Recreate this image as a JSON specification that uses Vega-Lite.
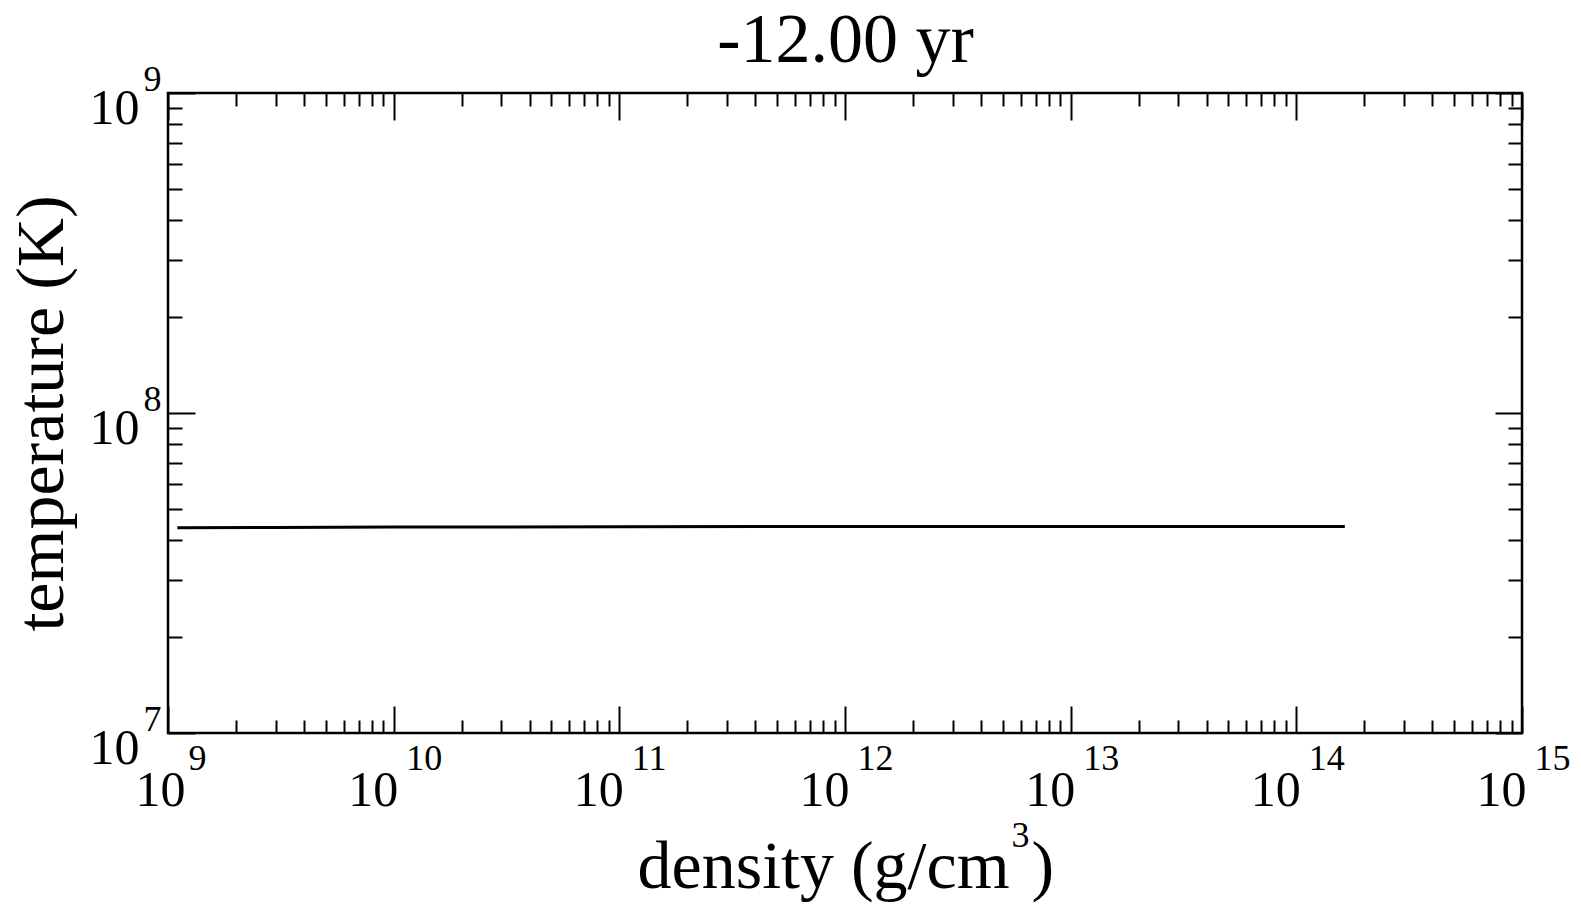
{
  "$schema": "https://vega.github.io/schema/vega-lite/v6.json",
  "width": 1354,
  "height": 640,
  "autosize": "none",
  "padding": {"left": 168, "top": 93, "right": 59, "bottom": 173},
  "background": "white",
  "config": {
    "font": "Liberation Serif",
    "view": {"stroke": "black", "strokeWidth": 2.5},
    "axis": {"grid": false, "domain": false, "labelColor": "black", "titleColor": "black", "labelFlush": false, "labelOverlap": false, "titleFontWeight": "normal"}
  },
  "data": {
    "values": [
      {"density": 1.1e9, "temperature": 4.38e7},
      {"density": 3e9, "temperature": 4.39e7},
      {"density": 1e10, "temperature": 4.40e7},
      {"density": 1e11, "temperature": 4.41e7},
      {"density": 1e12, "temperature": 4.42e7},
      {"density": 1e13, "temperature": 4.42e7},
      {"density": 1.64e14, "temperature": 4.42e7}
    ]
  },
  "layer": [
    {
      "mark": {"type": "line", "color": "black", "strokeWidth": 3},
      "encoding": {
        "x": {
          "field": "density", "type": "quantitative",
          "scale": {"type": "log", "domain": [1e9, 1e15], "nice": false},
          "axis": {
            "orient": "bottom",
            "values": [1e9, 1e10, 1e11, 1e12, 1e13, 1e14, 1e15],
            "ticks": false,
            "labelExpr": "'10'",
            "labelFontSize": 50,
            "labelPadding": 72,
            "labelBaseline": "alphabetic",
            "labelAlign": "right",
            "labelOffset": {"condition": {"test": "datum.value < 2e9", "value": 17}, "value": 4},
            "title": "density (g/cm",
            "titleFontSize": 68,
            "titleX": 469,
            "titleY": 154,
            "titleAlign": "left",
            "titleBaseline": "alphabetic"
          }
        },
        "y": {
          "field": "temperature", "type": "quantitative",
          "scale": {"type": "log", "domain": [1e7, 1e9], "nice": false},
          "axis": {
            "orient": "left",
            "values": [1e7, 1e8, 1e9],
            "ticks": false,
            "labelExpr": "'10'",
            "labelFontSize": 50,
            "labelPadding": 29,
            "labelAlign": "right",
            "labelBaseline": "alphabetic",
            "labelOffset": 30,
            "title": "temperature (K)",
            "titleFontSize": 68,
            "titleX": -106,
            "titleBaseline": "alphabetic"
          }
        }
      }
    },
    {
      "mark": {"type": "line", "opacity": 0},
      "encoding": {
        "x": {
          "field": "density", "type": "quantitative",
          "axis": {
            "orient": "bottom",
            "values": [1e9, 1e10, 1e11, 1e12, 1e13, 1e14, 1e15],
            "ticks": false,
            "labelExpr": "'' + round(log(datum.value) / LN10)",
            "labelFontSize": 36,
            "labelPadding": 36,
            "labelBaseline": "alphabetic",
            "labelAlign": "left",
            "labelOffset": {"condition": {"test": "datum.value < 2e9", "value": 20}, "value": 12},
            "title": "3",
            "titleFontSize": 36,
            "titleX": 843,
            "titleY": 113,
            "titleAlign": "left",
            "titleBaseline": "alphabetic"
          }
        },
        "y": {
          "field": "temperature", "type": "quantitative",
          "axis": {
            "orient": "left",
            "values": [1e7, 1e8, 1e9],
            "ticks": false,
            "labelExpr": "'' + round(log(datum.value) / LN10)",
            "labelFontSize": 36,
            "labelPadding": 7,
            "labelAlign": "right",
            "labelBaseline": "alphabetic",
            "labelOffset": -3,
            "title": null
          }
        }
      }
    },
    {
      "mark": {"type": "line", "opacity": 0},
      "encoding": {
        "x": {
          "field": "density", "type": "quantitative",
          "axis": {
            "orient": "bottom",
            "labels": false,
            "title": ")",
            "titleFontSize": 68,
            "titleX": 863,
            "titleY": 154,
            "titleAlign": "left",
            "titleBaseline": "alphabetic",
            "tickColor": "black",
            "tickWidth": 2,
            "tickSize": {"condition": {"test": "abs(log(datum.value)/LN10 - round(log(datum.value)/LN10)) < 0.001", "value": -27}, "value": -13},
            "values": [1e9, 2e9, 3e9, 4e9, 5e9, 6e9, 7e9, 8e9, 9e9,
                       1e10, 2e10, 3e10, 4e10, 5e10, 6e10, 7e10, 8e10, 9e10,
                       1e11, 2e11, 3e11, 4e11, 5e11, 6e11, 7e11, 8e11, 9e11,
                       1e12, 2e12, 3e12, 4e12, 5e12, 6e12, 7e12, 8e12, 9e12,
                       1e13, 2e13, 3e13, 4e13, 5e13, 6e13, 7e13, 8e13, 9e13,
                       1e14, 2e14, 3e14, 4e14, 5e14, 6e14, 7e14, 8e14, 9e14, 1e15]
          }
        },
        "y": {
          "field": "temperature", "type": "quantitative",
          "axis": {
            "orient": "left",
            "labels": false,
            "title": null,
            "tickColor": "black",
            "tickWidth": 2,
            "tickSize": {"condition": {"test": "abs(log(datum.value)/LN10 - round(log(datum.value)/LN10)) < 0.001", "value": -27}, "value": -14},
            "values": [1e7, 2e7, 3e7, 4e7, 5e7, 6e7, 7e7, 8e7, 9e7,
                       1e8, 2e8, 3e8, 4e8, 5e8, 6e8, 7e8, 8e8, 9e8, 1e9]
          }
        }
      }
    },
    {
      "mark": {"type": "line", "opacity": 0},
      "encoding": {
        "x": {
          "field": "density", "type": "quantitative",
          "axis": {
            "orient": "top",
            "labels": false,
            "title": "-12.00 yr",
            "titleFontSize": 70,
            "titleX": 677,
            "titleY": -32,
            "titleAlign": "center",
            "titleBaseline": "alphabetic",
            "tickColor": "black",
            "tickWidth": 2,
            "tickSize": {"condition": {"test": "abs(log(datum.value)/LN10 - round(log(datum.value)/LN10)) < 0.001", "value": -27}, "value": -13},
            "values": [1e9, 2e9, 3e9, 4e9, 5e9, 6e9, 7e9, 8e9, 9e9,
                       1e10, 2e10, 3e10, 4e10, 5e10, 6e10, 7e10, 8e10, 9e10,
                       1e11, 2e11, 3e11, 4e11, 5e11, 6e11, 7e11, 8e11, 9e11,
                       1e12, 2e12, 3e12, 4e12, 5e12, 6e12, 7e12, 8e12, 9e12,
                       1e13, 2e13, 3e13, 4e13, 5e13, 6e13, 7e13, 8e13, 9e13,
                       1e14, 2e14, 3e14, 4e14, 5e14, 6e14, 7e14, 8e14, 9e14, 1e15]
          }
        },
        "y": {
          "field": "temperature", "type": "quantitative",
          "axis": {
            "orient": "right",
            "labels": false,
            "title": null,
            "tickColor": "black",
            "tickWidth": 2,
            "tickSize": {"condition": {"test": "abs(log(datum.value)/LN10 - round(log(datum.value)/LN10)) < 0.001", "value": -27}, "value": -14},
            "values": [1e7, 2e7, 3e7, 4e7, 5e7, 6e7, 7e7, 8e7, 9e7,
                       1e8, 2e8, 3e8, 4e8, 5e8, 6e8, 7e8, 8e8, 9e8, 1e9]
          }
        }
      }
    }
  ],
  "resolve": {"axis": {"x": "independent", "y": "independent"}}
}
